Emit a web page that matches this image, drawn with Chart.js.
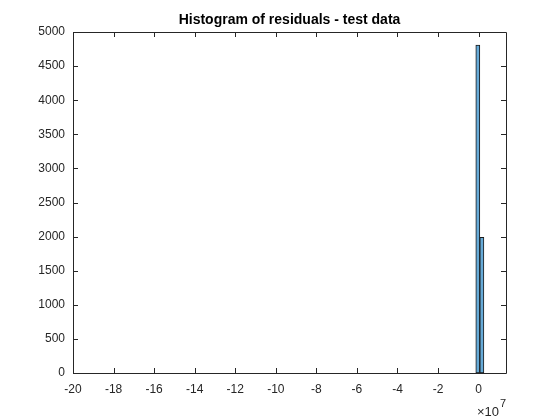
<!DOCTYPE html>
<html>
<head>
<meta charset="utf-8">
<script src="https://cdn.jsdelivr.net/npm/chart.js@4"></script>
<style>
  body { margin: 0; background: #fff; }
  #wrap { width: 560px; height: 420px; }
</style>
</head>
<body>
<div id="wrap"><canvas id="histChart" width="560" height="420"></canvas></div>
<script>
// values in units of 1e7
const binCenters = [-0.04, 0.16];
const counts = [4810, 1990];
const xTicks = [-20, -18, -16, -14, -12, -10, -8, -6, -4, -2, 0];
const yTicks = [0, 500, 1000, 1500, 2000, 2500, 3000, 3500, 4000, 4500, 5000];
const titleText = 'Histogram of residuals - test data';

const axisColor = '#262626';
const fontFamily = 'Liberation Sans, Arial, sans-serif';

// box, inner ticks, title and exponent label (MATLAB style)
const matlabAxes = {
    id: 'matlabAxes',
    afterDatasetsDraw(chart) {
        const ctx = chart.ctx;
        const area = chart.chartArea;
        const xs = chart.scales.x;
        const ys = chart.scales.y;
        const tl = 5;
        ctx.save();
        ctx.strokeStyle = axisColor;
        ctx.lineWidth = 1;
        ctx.beginPath();
        ctx.rect(Math.round(area.left) + 0.5, Math.round(area.top) + 0.5,
            Math.round(area.right - area.left), Math.round(area.bottom - area.top));
        xTicks.forEach(function(v) {
            const px = Math.round(xs.getPixelForValue(v)) + 0.5;
            ctx.moveTo(px, area.bottom);
            ctx.lineTo(px, area.bottom - tl);
            ctx.moveTo(px, area.top);
            ctx.lineTo(px, area.top + tl);
        });
        yTicks.forEach(function(v) {
            const py = Math.round(ys.getPixelForValue(v)) + 0.5;
            ctx.moveTo(area.left, py);
            ctx.lineTo(area.left + tl, py);
            ctx.moveTo(area.right, py);
            ctx.lineTo(area.right - tl, py);
        });
        ctx.stroke();

        ctx.fillStyle = '#000';
        ctx.font = 'bold 14px ' + fontFamily;
        ctx.textAlign = 'center';
        ctx.textBaseline = 'alphabetic';
        ctx.fillText(titleText, (area.left + area.right) / 2, 24);

        ctx.fillStyle = axisColor;
        ctx.font = '13px ' + fontFamily;
        ctx.textAlign = 'right';
        ctx.fillText('\u00d710', area.right - 7, area.bottom + 43);
        ctx.font = '11px ' + fontFamily;
        ctx.textAlign = 'left';
        ctx.fillText('7', area.right - 6, area.bottom + 34);
        ctx.restore();
    }
};

const ctx = document.getElementById('histChart');
new Chart(ctx, {
    type: 'bar',
    data: {
        datasets: [{
            data: binCenters.map(function(c, i) { return { x: c, y: counts[i] }; }),
            backgroundColor: 'rgb(102, 170, 215)',
            borderColor: '#1a1a1a',
            borderWidth: 1,
            borderSkipped: false,
            barPercentage: 1,
            categoryPercentage: 1
        }]
    },
    options: {
        responsive: false,
        animation: false,
        layout: {
            padding: { top: 32, right: 54, left: 0, bottom: 0 }
        },
        plugins: {
            legend: { display: false },
            title: { display: false },
            tooltip: { enabled: false }
        },
        scales: {
            x: {
                type: 'linear',
                min: -20,
                max: 1.35,
                offset: false,
                grid: { display: false, drawTicks: false },
                border: { display: false },
                afterBuildTicks: function(scale) {
                    scale.ticks = xTicks.map(function(v) { return { value: v }; });
                },
                afterFit: function(scale) { scale.height = 47; },
                ticks: {
                    color: axisColor,
                    padding: 9,
                    maxRotation: 0,
                    autoSkip: false,
                    font: { family: fontFamily, size: 12 },
                    callback: function(v) { return String(v); }
                }
            },
            y: {
                min: 0,
                max: 5000,
                grid: { display: false, drawTicks: false },
                border: { display: false },
                afterBuildTicks: function(scale) {
                    scale.ticks = yTicks.map(function(v) { return { value: v }; });
                },
                afterFit: function(scale) { scale.width = 73; },
                ticks: {
                    color: axisColor,
                    padding: 8,
                    autoSkip: false,
                    font: { family: fontFamily, size: 12 },
                    callback: function(v) { return String(v); }
                }
            }
        }
    },
    plugins: [matlabAxes]
});
</script>
</body>
</html>
